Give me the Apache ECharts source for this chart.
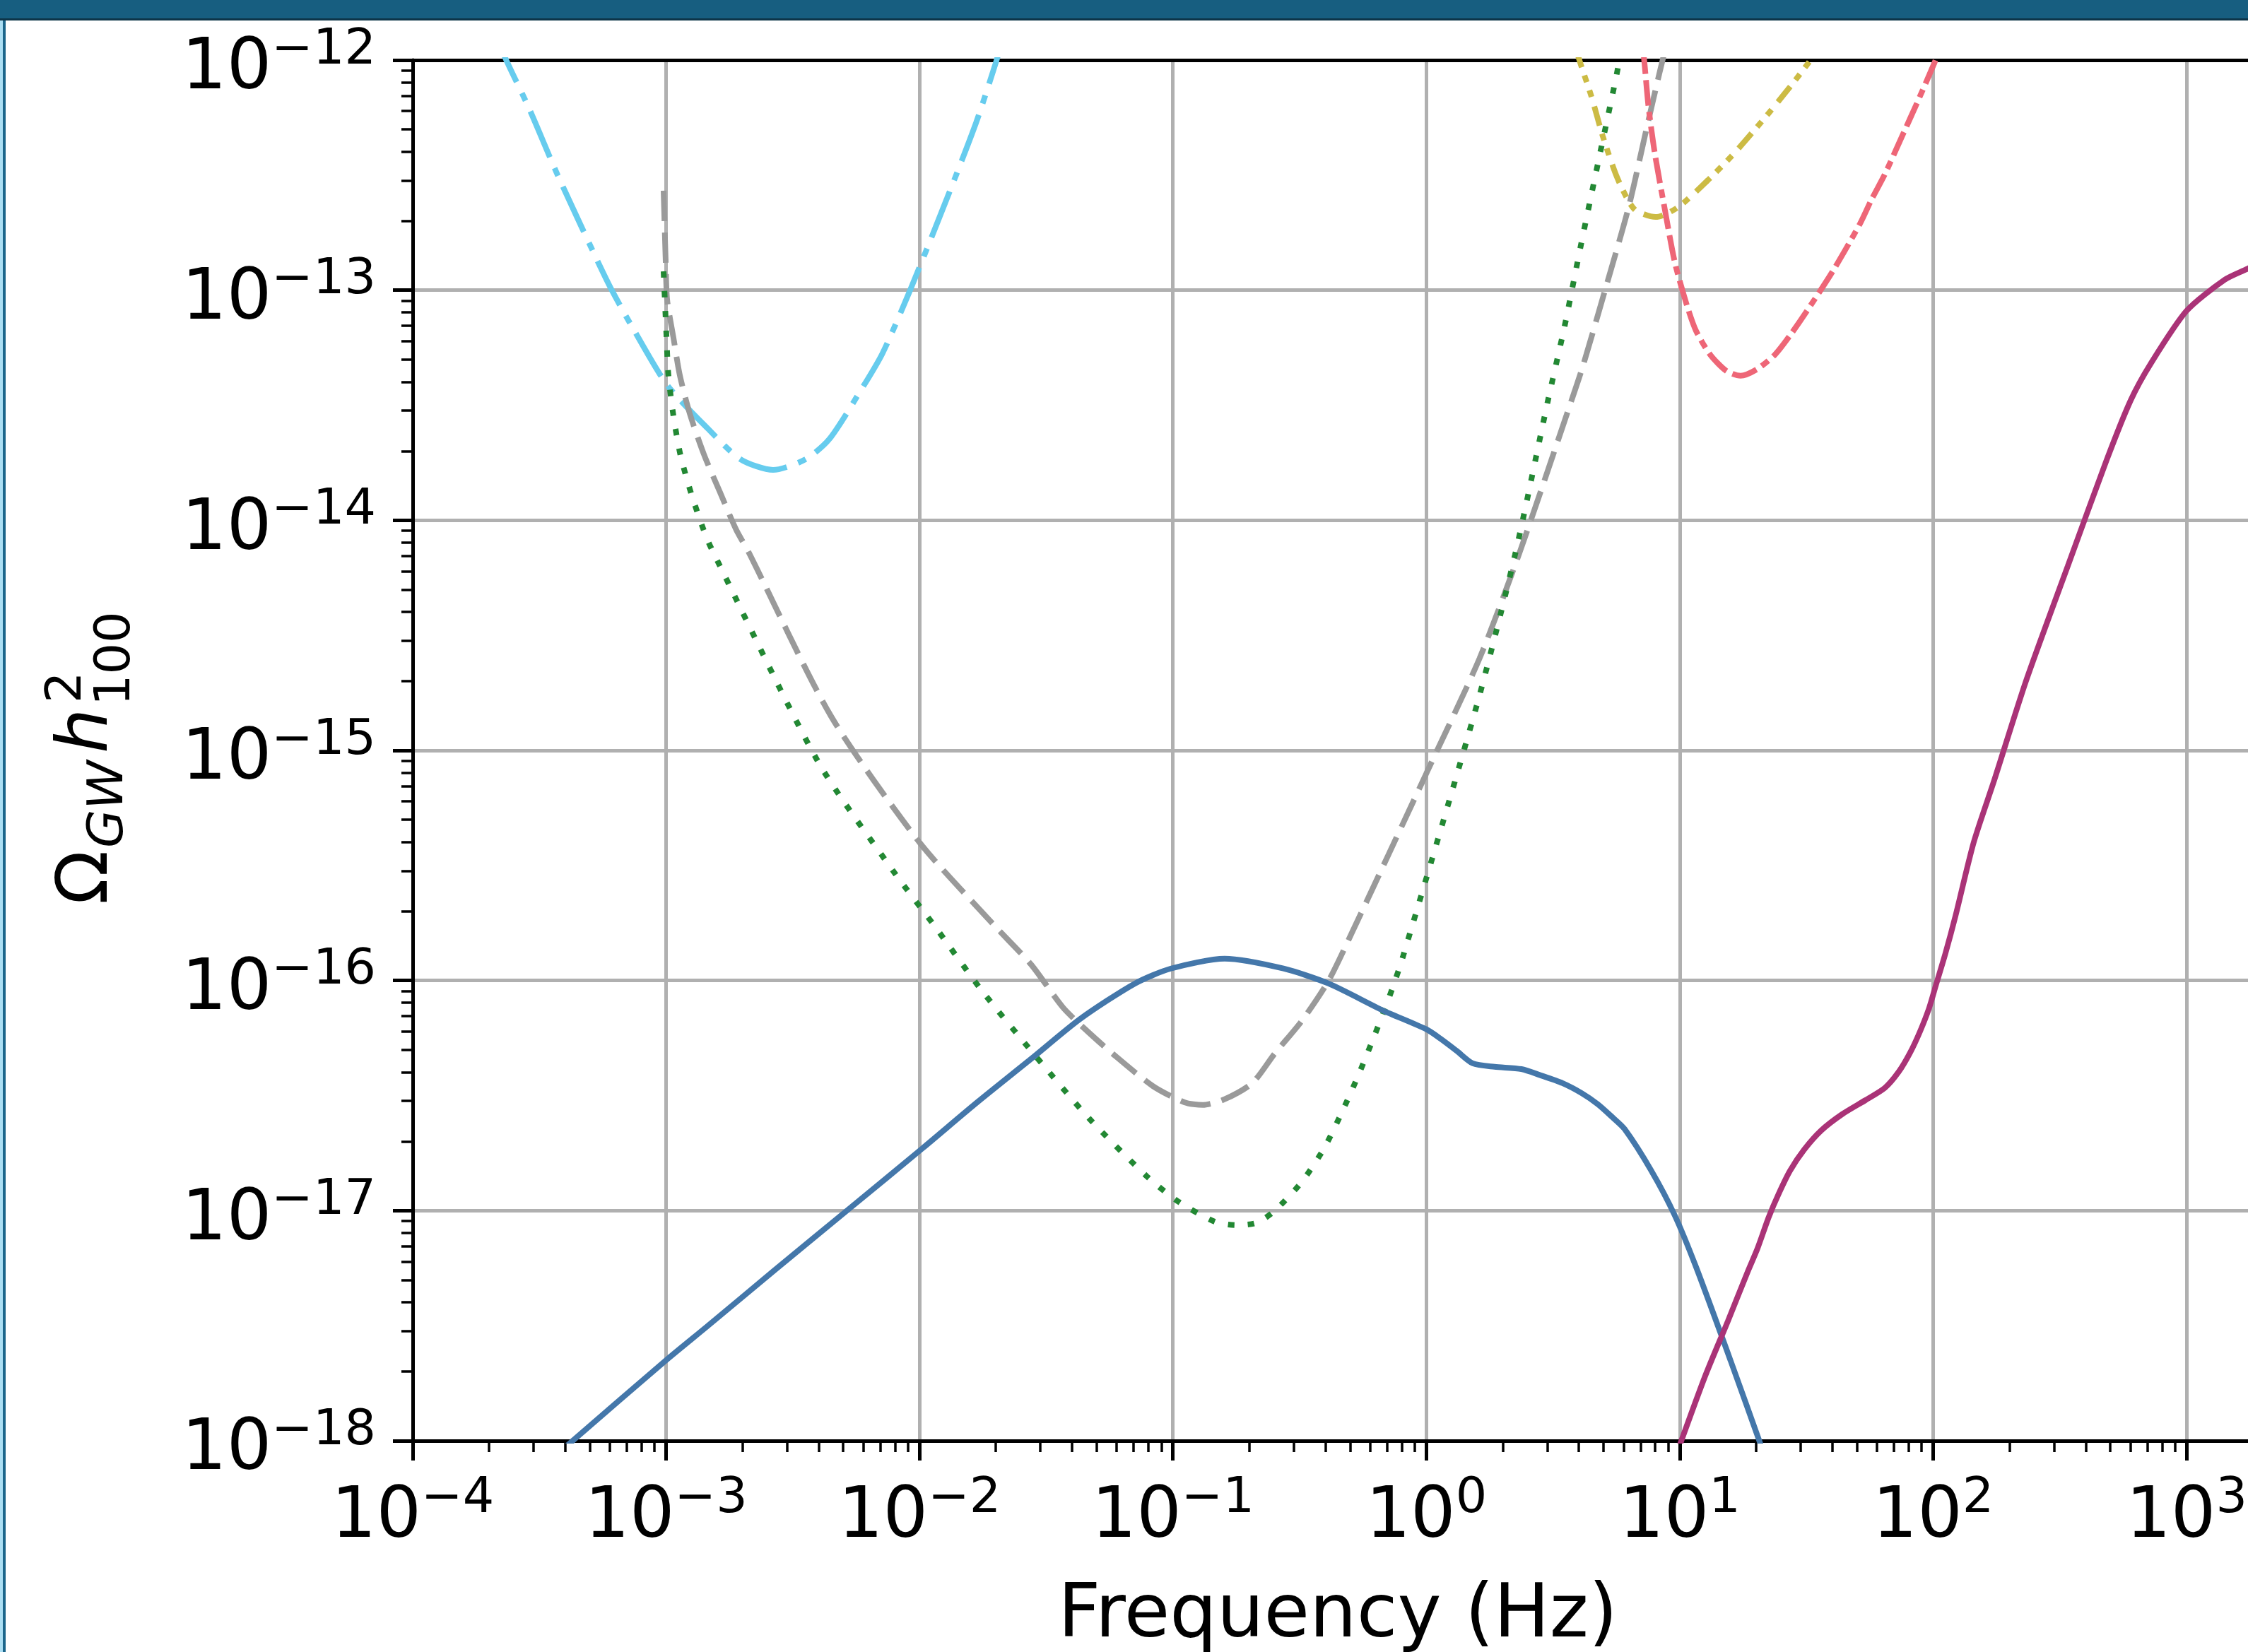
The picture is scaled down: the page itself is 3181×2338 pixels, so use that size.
<!DOCTYPE html>
<html>
<head>
<meta charset="utf-8">
<script src="https://cdn.jsdelivr.net/npm/echarts@6/dist/echarts.min.js"></script>
<style>
html, body { margin: 0; padding: 0; background: #fff; }
#chart { width: 3181px; height: 2338px; }
</style>
</head>
<body>
<div id="chart"></div>
<script>
// Both axes are logarithmic: every value below is a decade exponent (log10).
const xMin = -4;
const xMax = Math.log10(2000);
const yMin = -18;
const yMax = -12;

// cyan dash-dot sensitivity curve
const cyanLogF = [-3.67, -3.626, -3.540, -3.428, -3.275, -3.211, -3.124, -2.996, -2.834, -2.706, -2.578, -2.450, -2.355, -2.226, -2.146, -2.042, -1.892, -1.777, -1.699, -1.67];
const cyanLogOmega = [-11.90, -12.012, -12.212, -12.50, -12.863, -13.007, -13.179, -13.412, -13.603, -13.735, -13.781, -13.735, -13.646, -13.425, -13.274, -13.013, -12.602, -12.273, -12.012, -11.90];

// grey dashed sensitivity curve
const greyLogF = [-3.010, -3.002, -2.996, -2.971, -2.946, -2.907, -2.851, -2.787, -2.723, -2.675, -2.35, -2.0, -1.702, -1.560, -1.434, -1.345, -1.239, -1.080, -0.955, -0.882, -0.796, -0.687, -0.598, -0.492, -0.386, -0.297, 0.0, 0.21, 0.369, 0.568, 0.618, 0.710, 0.799, 0.869, 0.919, 0.95];
const greyLogOmega = [-12.568, -12.863, -13.041, -13.207, -13.369, -13.535, -13.713, -13.879, -14.042, -14.137, -14.85, -15.40, -15.764, -15.930, -16.117, -16.213, -16.317, -16.458, -16.529, -16.541, -16.516, -16.446, -16.317, -16.176, -16.001, -15.80, -15.10, -14.60, -14.137, -13.495, -13.329, -12.982, -12.636, -12.298, -12.061, -11.92];

// green dotted sensitivity curve
const greenLogF = [-3.010, -2.999, -2.991, -2.971, -2.943, -2.899, -2.845, -2.815, -2.40, -2.10, -1.942, -1.752, -1.546, -1.331, -1.103, -0.977, -0.835, -0.751, -0.673, -0.603, -0.492, -0.403, -0.333, -0.266, -0.205, -0.146, -0.093, 0.20, 0.35, 0.481, 0.545, 0.61, 0.68, 0.749, 0.77];
const greenLogOmega = [-12.918, -13.191, -13.369, -13.547, -13.719, -13.891, -14.063, -14.137, -15.05, -15.53, -15.761, -16.047, -16.323, -16.599, -16.851, -16.962, -17.048, -17.063, -17.054, -17.005, -16.876, -16.728, -16.572, -16.406, -16.240, -16.071, -15.899, -14.80, -14.15, -13.474, -13.16, -12.804, -12.434, -12.074, -11.95];

// yellow dash-dot-dot sensitivity curve
const yellowLogF = [0.59, 0.610, 0.652, 0.696, 0.749, 0.794, 0.827, 0.905, 0.994, 1.111, 1.215, 1.335, 1.435, 1.491, 1.55];
const yellowLogOmega = [-11.95, -12.021, -12.160, -12.33, -12.500, -12.605, -12.654, -12.682, -12.639, -12.522, -12.405, -12.252, -12.117, -12.037, -11.95];

// red dash-dash-dot sensitivity curve
const redLogF = [0.855, 0.861, 0.877, 0.902, 0.939, 0.981, 1.028, 1.064, 1.120, 1.184, 1.240, 1.307, 1.376, 1.435, 1.502, 1.602, 1.711, 1.756, 1.809, 1.881, 1.931, 2.004, 2.03];
const redLogOmega = [-11.95, -12.015, -12.206, -12.408, -12.636, -12.881, -13.065, -13.176, -13.280, -13.351, -13.372, -13.342, -13.280, -13.197, -13.090, -12.921, -12.712, -12.608, -12.497, -12.322, -12.200, -12.015, -11.94];

// blue solid spectrum
const blueLogF = [-3.40, -3.0, -2.840, -2.572, -2.271, -1.987, -1.772, -1.560, -1.365, -1.150, -1.008, -0.796, -0.564, -0.386, -0.171, 0.0, 0.055, 0.119, 0.183, 0.269, 0.375, 0.451, 0.537, 0.612, 0.677, 0.730, 0.782, 0.888, 0.980, 1.064, 1.20, 1.33];
const blueLogOmega = [-18.03, -17.65, -17.505, -17.259, -16.986, -16.728, -16.529, -16.341, -16.166, -16.013, -15.948, -15.905, -15.948, -16.013, -16.130, -16.212, -16.252, -16.305, -16.360, -16.375, -16.385, -16.412, -16.446, -16.489, -16.538, -16.590, -16.645, -16.827, -17.020, -17.244, -17.65, -18.05];

// purple solid spectrum
const purpleLogF = [0.99, 1.10, 1.19, 1.268, 1.307, 1.351, 1.390, 1.435, 1.491, 1.558, 1.641, 1.733, 1.809, 1.864, 1.909, 1.948, 1.984, 2.012, 2.048, 2.088, 2.160, 2.241, 2.366, 2.531, 2.684, 2.779, 2.860, 3.0, 3.150, 3.242, 3.302];
const purpleLogOmega = [-18.05, -17.72, -17.48, -17.266, -17.164, -17.029, -16.928, -16.827, -16.735, -16.652, -16.581, -16.520, -16.467, -16.397, -16.314, -16.222, -16.120, -16.016, -15.884, -15.72, -15.40, -15.13, -14.70, -14.20, -13.74, -13.48, -13.317, -13.09, -12.955, -12.906, -12.87];

const FONT = "DejaVu Sans";

function minorTicks(from, to, max) {
  const out = [];
  for (let d = from; d < to; d++) {
    for (let k = 2; k <= 9; k++) {
      const v = d + Math.log10(k);
      if (v < max) out.push(v);
    }
  }
  return out;
}

function powLabel(v) {
  const n = Math.round(v);
  if (Math.abs(v - n) > 1e-6) return "";
  return "{b|10}{s|" + (n < 0 ? "\u2212" + -n : n) + "}";
}

const tickRich = {
  b: { fontSize: 100, fontFamily: FONT, color: "#000", lineHeight: 130, padding: [29, 0, 0, 0] },
  s: { fontSize: 70, fontFamily: FONT, color: "#000", height: 103, verticalAlign: "top" },
};

function line(name, xs, ys, color, dash) {
  return {
    name,
    type: "line",
    data: xs.map((x, i) => [x, ys[i]]),
    showSymbol: false,
    smooth: 0.25,
    clip: true,
    lineStyle: { color, width: 8, type: dash || "solid", cap: "butt" },
  };
}

const chart = echarts.init(document.getElementById("chart"), null, { renderer: "canvas" });

chart.setOption({
  backgroundColor: "#fff",
  animation: false,
  grid: { left: 584, top: 85, width: 2618, height: 1954, containLabel: false, outerBoundsMode: "none" },
  xAxis: [
    {
      type: "value",
      min: xMin,
      max: xMax,
      interval: 1,
      position: "bottom",
      name: "Frequency (Hz)",
      nameLocation: "middle",
      nameGap: 197,
      nameTextStyle: { fontSize: 105, fontFamily: FONT, color: "#000", lineHeight: 105 },
      axisLine: { show: false, onZero: false },
      axisTick: { show: true, length: 28, lineStyle: { color: "#000", width: 5 } },
      axisLabel: { margin: 31, formatter: powLabel, rich: tickRich },
      splitLine: { show: true, lineStyle: { color: "#b0b0b0", width: 5 } },
    },
    {
      // minor ticks + spine, drawn above the curves
      type: "value",
      min: xMin,
      max: xMax,
      position: "bottom",
      z: 3,
      axisLine: { show: true, onZero: false, lineStyle: { color: "#000", width: 5 } },
      axisTick: { show: true, customValues: minorTicks(-4, 4, xMax), length: 16, lineStyle: { color: "#000", width: 3.5 } },
      axisLabel: { show: false },
      splitLine: { show: false },
    },
    {
      type: "value",
      min: xMin,
      max: xMax,
      position: "top",
      z: 3,
      axisLine: { show: true, onZero: false, lineStyle: { color: "#000", width: 5 } },
      axisTick: { show: false },
      axisLabel: { show: false },
      splitLine: { show: false },
    },
  ],
  yAxis: [
    {
      type: "value",
      min: yMin,
      max: yMax,
      interval: 1,
      position: "left",
      axisLine: { show: false, onZero: false },
      axisTick: { show: true, length: 28, lineStyle: { color: "#000", width: 5 } },
      axisLabel: { margin: 52, formatter: powLabel, rich: tickRich },
      splitLine: { show: true, lineStyle: { color: "#b0b0b0", width: 5 } },
    },
    {
      type: "value",
      min: yMin,
      max: yMax,
      position: "left",
      z: 3,
      axisLine: { show: true, onZero: false, lineStyle: { color: "#000", width: 5 } },
      axisTick: { show: true, customValues: minorTicks(-18, -12, yMax), length: 16, lineStyle: { color: "#000", width: 3.5 } },
      axisLabel: { show: false },
      splitLine: { show: false },
    },
  ],
  series: [
    line("cyan", cyanLogF, cyanLogOmega, "#66ccee", [70, 17, 12, 17]),
    line("grey", greyLogF, greyLogOmega, "#9a9a9a", [43, 16]),
    line("green", greenLogF, greenLogOmega, "#228833", [9, 19]),
    line("yellow", yellowLogF, yellowLogOmega, "#ccbb44", [28, 12, 10, 12, 10, 14]),
    line("red", redLogF, redLogOmega, "#ee6677", [36, 9, 36, 9, 12, 9]),
    line("blue", blueLogF, blueLogOmega, "#4477aa"),
    line("purple", purpleLogF, purpleLogOmega, "#aa3377"),
  ],
  graphic: [
    { type: "rect", x: 0, y: 0, z: 100, shape: { width: 3181, height: 26 }, style: { fill: "#175e80" } },
    { type: "rect", x: 0, y: 26, z: 100, shape: { width: 3181, height: 3 }, style: { fill: "#0d3549" } },
    { type: "rect", x: 0, y: 0, z: 99, shape: { width: 4, height: 2338 }, style: { fill: "#acdff4" } },
    { type: "rect", x: 4, y: 0, z: 99, shape: { width: 4, height: 2338 }, style: { fill: "#1c668b" } },
    {
      // y axis title, rotated: Ω_GW h^2_100
      type: "group",
      x: 155,
      y: 1280,
      rotation: Math.PI / 2,
      children: [
        { type: "text", x: 0, y: -29.7, style: { text: "\u03a9", font: '100px "DejaVu Sans"', fill: "#000", align: "left", verticalAlign: "middle" } },
        { type: "text", x: 80, y: 0, style: { text: "GW", font: 'italic 70px "DejaVu Sans"', fill: "#000", align: "left", verticalAlign: "middle" } },
        { type: "text", x: 214, y: -29.7, style: { text: "h", font: 'italic 100px "DejaVu Sans"', fill: "#000", align: "left", verticalAlign: "middle" } },
        { type: "text", x: 285, y: -58.8, style: { text: "2", font: '70px "DejaVu Sans"', fill: "#000", align: "left", verticalAlign: "middle" } },
        { type: "text", x: 281, y: 10.2, style: { text: "100", font: '70px "DejaVu Sans"', fill: "#000", align: "left", verticalAlign: "middle" } },
      ],
    },
  ],
});
</script>
</body>
</html>
